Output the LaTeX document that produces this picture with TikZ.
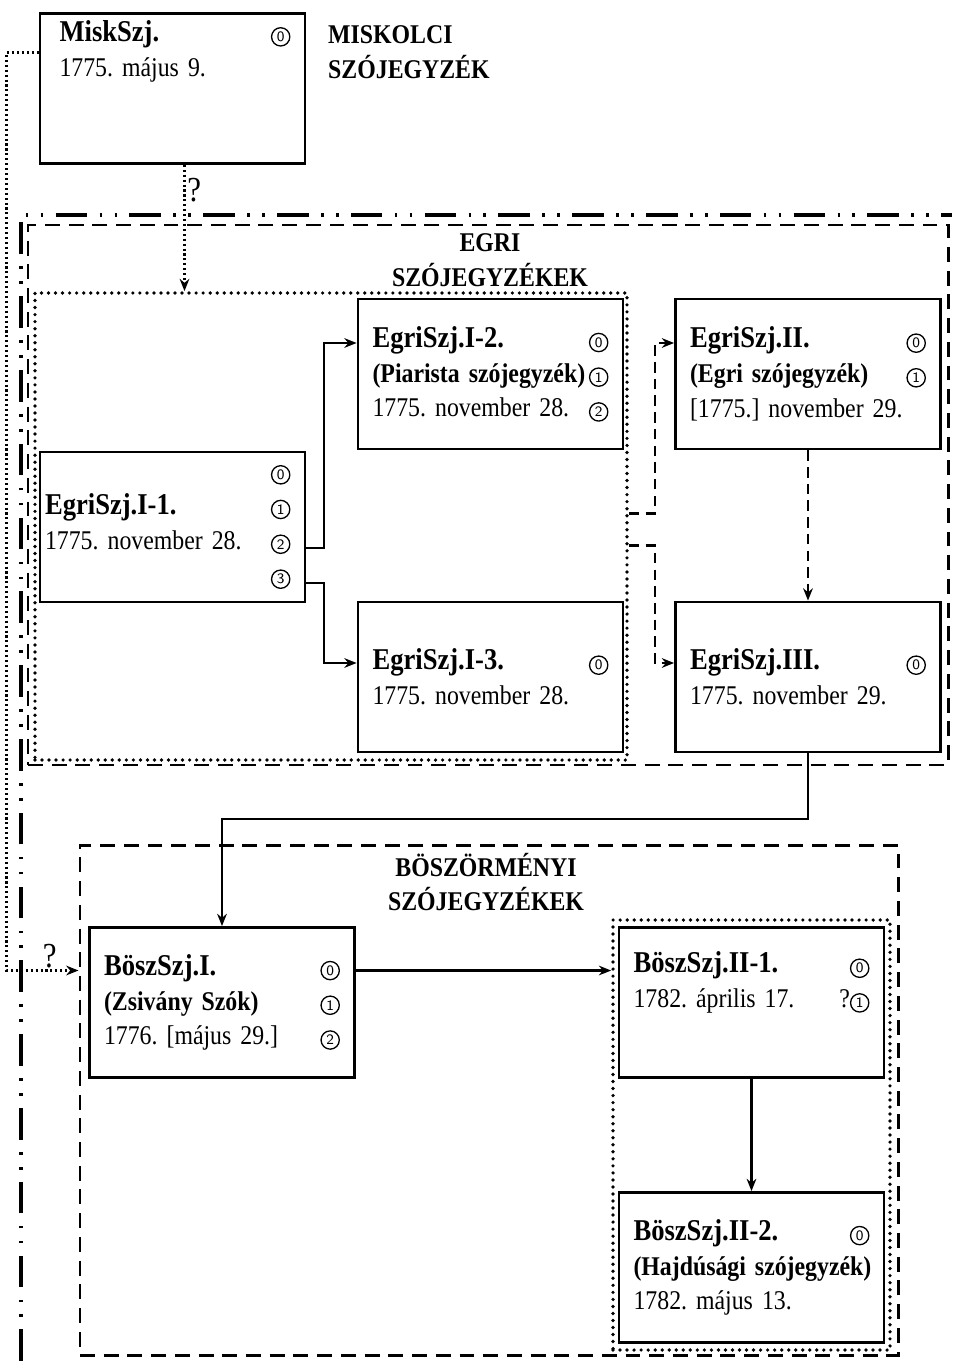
\documentclass[tikz,border=0pt]{standalone}
\usepackage{fontspec}
\setmainfont{Liberation Serif}[FakeStretch=0.88]
\usetikzlibrary{arrows.meta,calc,fit}
\newcommand{\cnum}[1]{\tikz[baseline=(cn.base)]\node[draw,circle,line width=0.75pt,inner sep=0pt,minimum size=10.4pt,font=\sffamily\fontsize{8.2}{8.2}\selectfont] (cn) {#1};}
\newcommand{\ttl}[1]{{\fontsize{17.2}{19.8}\selectfont\bfseries #1}}

\begin{document}
\begin{tikzpicture}[x=0.02cm,y=-0.02cm,font=\fontsize{15.4}{19.8}\selectfont\frenchspacing,
    box/.style={draw,line width=1.6pt,minimum width=5.3cm,minimum height=3cm,text width=4.72cm,inner xsep=0.29cm,inner ysep=0pt,align=left},
    dashframe/.style={draw,line width=1.7pt,dash pattern=on 8.5pt off 5pt,inner sep=0pt},
    dotframe/.style={draw,line width=2.1pt,dash pattern=on 0pt off 4pt,line cap=round,inner sep=0pt},
    dddframe/.style={line width=1.8pt,dash pattern=on 18pt off 7pt on 1.5pt off 7pt on 1.5pt off 7pt},
    grplabel/.style={font=\fontsize{15.4}{19.8}\selectfont\bfseries,align=center},
    conn/.style={-{Stealth[length=7pt,width=5.5pt]},line width=1.25pt},
    dconn/.style={conn,dash pattern=on 6pt off 3.5pt},
    pconn/.style={conn,line width=1.3pt,dash pattern=on 1.2pt off 1.6pt},
    qmark/.style={font=\fontsize{20}{20}\selectfont,inner sep=1pt}]
  \useasboundingbox (0,0) rectangle (954,1361);
  % frames
  \draw[dddframe] (21,1361) |- (952,215);
  \node[dashframe,fit={(28,225) (948,765)}] (egrifr) {};
  \node[dotframe,fit={(35,293) (627,760)}] (egriIfr) {};
  \node[dashframe,fit={(80,845) (898,1355)}] (boszfr) {};
  \node[dotframe,fit={(613,920) (890,1350)}] (boszIIfr) {};
  % group labels
  \node[grplabel,align=left,anchor=west] (misklab) at (322,52) {MISKOLCI\\SZÓJEGYZÉK};
  \node[grplabel] (egrilab) at (490,260) {EGRI\\SZÓJEGYZÉKEK};
  \node[grplabel] (boszlab) at (486,882) {BÖSZÖRMÉNYI\\SZÓJEGYZÉKEK};
  % word lists
  \node[box] (misk) at (172.5,88.5) {\hspace*{0.1cm}\ttl{MiskSzj.}\hfill\cnum{0}\\\hspace*{0.1cm}1775. május 9.\\\strut\\\strut};
  \node[box] (i1) at (172.5,527) {\mbox{}\hfill\cnum{0}\\\hspace*{-0.19cm}\ttl{EgriSzj.I-1.}\hfill\cnum{1}\\\hspace*{-0.19cm}1775. november 28.\hfill\cnum{2}\\\mbox{}\hfill\cnum{3}};
  \node[box] (i2) at (490.5,374) {\ttl{EgriSzj.I-2.}\hfill\cnum{0}\\\textbf{(Piarista szójegyzék)}\hfill\cnum{1}\\1775. november 28.\hfill\cnum{2}};
  \node[box] (i3) at (490.5,677) {\ttl{EgriSzj.I-3.}\hfill\cnum{0}\\1775. november 28.};
  \node[box] (ii) at (808,374) {\ttl{EgriSzj.II.}\hfill\cnum{0}\\\textbf{(Egri szójegyzék)}\hfill\cnum{1}\\{[1775.]} november 29.};
  \node[box] (iii) at (808,677) {\ttl{EgriSzj.III.}\hfill\cnum{0}\\1775. november 29.};
  \node[box] (b1) at (222,1002.5) {\ttl{BöszSzj.I.}\hfill\cnum{0}\\\textbf{(Zsivány Szók)}\hfill\cnum{1}\\1776. [május 29.]\hfill\cnum{2}};
  \node[box] (b21) at (751.5,1002.5) {\ttl{BöszSzj.II-1.}\hfill\cnum{0}\\1782. április 17.\hfill?\cnum{1}\\\strut};
  \node[box] (b22) at (751.5,1267.5) {\ttl{BöszSzj.II-2.}\hfill\cnum{0}\\\mbox{\textbf{(Hajdúsági szójegyzék)}}\\1782. május 13.};
  % connectors
  \coordinate (miskout) at ($(misk.west)+(0,-36)$);
  \coordinate (miskdown) at ($(misk.south)+(12,0)$);
  \coordinate (b1out) at ($(b1.east)+(0,-32)$);
  \coordinate (b1in) at (boszfr.west |- b1out);
  \draw[pconn] (miskdown) -- node[qmark,pos=0.2,right]{?} (miskdown |- egriIfr.north);
  \draw[pconn] (miskout) -- ++(-32,0) |- node[qmark,pos=0.8,above]{?} (b1in);
  \draw[conn] ($(i1.east)+(0,21)$) -- ++(18,0) |- ($(i2.west)+(0,-31)$);
  \draw[conn] ($(i1.east)+(0,56)$) -- ++(18,0) |- ($(i3.west)+(0,-14)$);
  \draw[dconn] ($(egriIfr.east)+(0,-13)$) -- ++(26,0) |- ($(ii.west)+(0,-31)$);
  \draw[dconn] ($(egriIfr.east)+(0,19)$) -- ++(26,0) |- ($(iii.west)+(0,-14)$);
  \draw[dconn] (ii) -- (iii);
  \draw[conn] (iii.south) -- ++(0,66) -| (b1.north);
  \draw[conn] (b1out) -- (b1out -| boszIIfr.west);
  \draw[conn] (b21) -- (b22);
\end{tikzpicture}
\end{document}
